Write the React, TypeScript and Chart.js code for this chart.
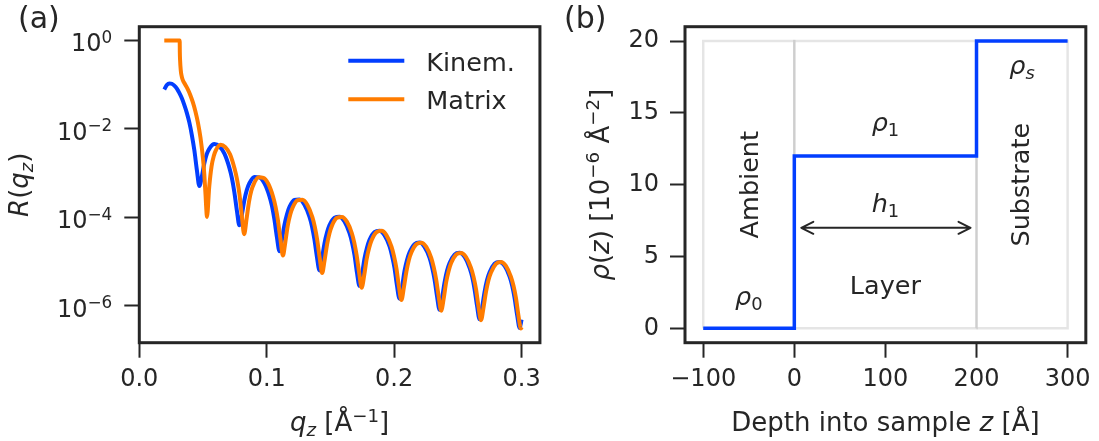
import React, { useEffect, useRef } from "react";
import { Chart, registerables } from "chart.js";

Chart.register(...registerables);

// ---------- shared style ----------
const FONT = '"DejaVu Sans", sans-serif';
const INK = "#262626";
const BLUE = "#023eff";
const ORANGE = "#ff7c00";
const REGION_EDGE = "rgba(0,0,0,0.1)";

// ---------- panel (a): specular reflectivity, R stored as log10 ----------
const kinemQ = [
  0.0196, 0.0216, 0.0236, 0.0255, 0.0275, 0.0295, 0.0314, 0.0334, 0.0353, 0.0373, 0.0393, 0.0412, 0.0432, 0.0452, 0.0471,
  0.0491, 0.0511, 0.053, 0.055, 0.0589, 0.0628, 0.0668, 0.0707, 0.0727, 0.0746, 0.0766, 0.0785,
  0.0805, 0.0825, 0.0844, 0.0864, 0.0903, 0.0942, 0.0982, 0.1021, 0.1041, 0.106, 0.108, 0.11,
  0.1119, 0.1139, 0.1159, 0.1178, 0.1217, 0.1257, 0.1296, 0.1335, 0.1355, 0.1374, 0.1394, 0.1414,
  0.1433, 0.1453, 0.1473, 0.1492, 0.1532, 0.1571, 0.161, 0.1649, 0.1669, 0.1689, 0.1708, 0.1728,
  0.1748, 0.1767, 0.1787, 0.1806, 0.1846, 0.1885, 0.1924, 0.1964, 0.1983, 0.2003, 0.2022, 0.2042,
  0.2062, 0.2081, 0.2101, 0.2121, 0.216, 0.2199, 0.2238, 0.2278, 0.2297, 0.2317, 0.2337, 0.2356,
  0.2376, 0.2396, 0.2415, 0.2435, 0.2474, 0.2513, 0.2553, 0.2592, 0.2612, 0.2631, 0.2651, 0.267,
  0.269, 0.271, 0.2729, 0.2749, 0.2788, 0.2827, 0.2867, 0.2906, 0.2926, 0.2945, 0.2965, 0.2985, 0.3,
];
const kinemLogR = [
  -1.11, -1.009, -0.971, -0.979, -1.021, -1.09, -1.187, -1.308, -1.457, -1.638, -1.858, -2.132, -2.483, -2.933, -3.289,
  -3.074, -2.768, -2.565, -2.443, -2.341, -2.391, -2.559, -2.879, -3.114, -3.43, -3.848, -4.176,
  -3.936, -3.604, -3.376, -3.228, -3.086, -3.095, -3.231, -3.518, -3.739, -4.042, -4.447, -4.761,
  -4.509, -4.166, -3.926, -3.767, -3.605, -3.595, -3.714, -3.984, -4.198, -4.493, -4.891, -5.198,
  -4.939, -4.59, -4.343, -4.177, -4.004, -3.983, -4.091, -4.351, -4.56, -4.851, -5.244, -5.546,
  -5.283, -4.93, -4.679, -4.509, -4.328, -4.299, -4.401, -4.654, -4.86, -5.147, -5.537, -5.836,
  -5.571, -5.214, -4.961, -4.788, -4.602, -4.567, -4.664, -4.912, -5.116, -5.401, -5.788, -6.085,
  -5.817, -5.459, -5.203, -5.028, -4.838, -4.799, -4.892, -5.136, -5.338, -5.621, -6.007, -6.302,
  -6.033, -5.673, -5.415, -5.239, -5.046, -5.004, -5.094, -5.335, -5.536, -5.817, -6.202, -6.496, -6.309,
];

const matrixQ = [
  0.0196, 0.0317, 0.0318, 0.032, 0.0325, 0.033, 0.034, 0.036, 0.038, 0.04, 0.042, 0.044, 0.046, 0.048, 0.05, 0.051, 0.052, 0.0525, 0.0531,
  0.0549, 0.0567, 0.0585, 0.0602, 0.0638, 0.0675, 0.0712, 0.0748, 0.0767, 0.0786, 0.0804, 0.0823,
  0.0842, 0.0861, 0.0879, 0.0898, 0.0936, 0.0974, 0.1012, 0.105, 0.1069, 0.1088, 0.1108, 0.1127,
  0.1146, 0.1165, 0.1184, 0.1203, 0.1242, 0.128, 0.1319, 0.1358, 0.1377, 0.1396, 0.1416, 0.1435,
  0.1454, 0.1474, 0.1493, 0.1512, 0.1551, 0.159, 0.1629, 0.1668, 0.1687, 0.1706, 0.1726, 0.1745,
  0.1765, 0.1784, 0.1804, 0.1823, 0.1862, 0.1901, 0.194, 0.1979, 0.1998, 0.2018, 0.2037, 0.2057,
  0.2076, 0.2096, 0.2115, 0.2135, 0.2174, 0.2213, 0.2252, 0.2291, 0.231, 0.233, 0.235, 0.2369,
  0.2389, 0.2408, 0.2428, 0.2447, 0.2486, 0.2525, 0.2564, 0.2603, 0.2623, 0.2643, 0.2662, 0.2682,
  0.2701, 0.2721, 0.274, 0.276, 0.2799, 0.2838, 0.2877, 0.2916, 0.2936, 0.2956, 0.2975, 0.2995, 0.3,
];
const matrixLogR = [
  0, 0, -0.259, -0.442, -0.663, -0.774, -0.885, -0.996, -1.101, -1.231, -1.394, -1.598, -1.857, -2.195, -2.677, -3.02, -3.493, -3.775, -3.987,
  -3.301, -2.846, -2.606, -2.476, -2.357, -2.411, -2.573, -2.902, -3.142, -3.474, -3.949, -4.378,
  -4.028, -3.641, -3.397, -3.245, -3.094, -3.106, -3.238, -3.531, -3.755, -4.065, -4.499, -4.86,
  -4.558, -4.187, -3.938, -3.777, -3.61, -3.602, -3.719, -3.993, -4.208, -4.508, -4.923, -5.257,
  -4.97, -4.603, -4.352, -4.184, -4.008, -3.987, -4.095, -4.357, -4.568, -4.861, -5.266, -5.586,
  -5.305, -4.94, -4.685, -4.515, -4.331, -4.303, -4.404, -4.659, -4.866, -5.155, -5.554, -5.866,
  -5.587, -5.222, -4.966, -4.792, -4.604, -4.57, -4.666, -4.916, -5.12, -5.407, -5.8, -6.106,
  -5.829, -5.464, -5.207, -5.031, -4.84, -4.802, -4.894, -5.14, -5.342, -5.627, -6.018, -6.32,
  -6.042, -5.678, -5.419, -5.242, -5.047, -5.006, -5.096, -5.338, -5.539, -5.823, -6.21, -6.51, -6.479,
];

const reflTickExponents = [0, -2, -4, -6];
const qTicks = [0, 0.1, 0.2, 0.3];

// ---------- panel (b): scattering length density profile ----------
const depthZ = [-100, 0, 0, 200, 200, 300];
const sldRho = [0, 0, 12, 12, 20, 20];
const regionBounds = [-100, 0, 200, 300];
const regionTop = 20;
const depthTicks = [-100, 0, 100, 200, 300];
const rhoTicks = [0, 5, 10, 15, 20];

// ---------- text helpers ----------
type Run = { t: string; it?: boolean; sub?: boolean; sup?: boolean };

const runFont = (r: Run, size: number) =>
  `${r.it ? "italic " : ""}${r.sub || r.sup ? size * 0.7 : size}px ${FONT}`;
const runShift = (r: Run, size: number) => (r.sub ? size * 0.19 : r.sup ? -size * 0.36 : 0);

function drawRich(
  ctx: CanvasRenderingContext2D,
  runs: Run[],
  x: number,
  y: number,
  size: number,
  opts: { rotate?: number; align?: "left" | "center" | "right"; vCenter?: boolean } = {}
) {
  ctx.save();
  let top = 0;
  let bottom = 0;
  const widths = runs.map((r) => {
    ctx.font = runFont(r, size);
    const m = ctx.measureText(r.t);
    const dy = runShift(r, size);
    top = Math.min(top, dy - m.actualBoundingBoxAscent);
    bottom = Math.max(bottom, dy + m.actualBoundingBoxDescent);
    return m.width;
  });
  const total = widths.reduce((s, w) => s + w, 0);
  ctx.translate(x, y);
  if (opts.rotate) ctx.rotate(opts.rotate);
  let cx = opts.align === "center" ? -total / 2 : opts.align === "right" ? -total : 0;
  const base = opts.vCenter ? -(top + bottom) / 2 : 0;
  ctx.fillStyle = INK;
  ctx.textAlign = "left";
  ctx.textBaseline = "alphabetic";
  runs.forEach((r, i) => {
    ctx.font = runFont(r, size);
    ctx.fillText(r.t, cx, base + runShift(r, size));
    cx += widths[i];
  });
  ctx.restore();
}

function drawFrame(ctx: CanvasRenderingContext2D, ca: { left: number; top: number; right: number; bottom: number }) {
  ctx.save();
  ctx.strokeStyle = INK;
  ctx.lineWidth = 3;
  ctx.lineJoin = "miter";
  ctx.strokeRect(ca.left, ca.top, ca.right - ca.left, ca.bottom - ca.top);
  ctx.restore();
}

const TICK_SIZE = 24;
const tickFont = { family: FONT, size: TICK_SIZE };
const axisGrid = { drawOnChartArea: false, drawTicks: true, tickLength: 15, tickWidth: 2, tickColor: INK };
const X_TITLE_BASELINE = 431;

// ---------- panel (a) ----------
function reflectivityConfig(): any {
  const overlay = {
    id: "reflOverlay",
    afterDraw(chart: any) {
      const { ctx, chartArea: ca, scales } = chart;
      drawFrame(ctx, ca);

      // decade labels of the log axis, written as powers of ten
      const yScale = scales.y;
      yScale.ticks.forEach((t: any) => {
        const exp = Math.round(Math.log10(t.value));
        const expText = exp < 0 ? "−" + Math.abs(exp) : String(exp);
        drawRich(ctx, [{ t: "10" }, { t: expText, sup: true }], ca.left - 15 - 12, yScale.getPixelForValue(t.value), TICK_SIZE, {
          align: "right",
          vCenter: true,
        });
      });

      // legend (no frame), upper right inside the axes
      const entries = chart.data.datasets.map((d: any) => ({ label: d.label, color: d.borderColor }));
      entries.forEach((e: any, i: number) => {
        const y = ca.top + 34 + i * 38.6;
        ctx.save();
        ctx.strokeStyle = e.color;
        ctx.lineWidth = 4;
        ctx.lineCap = "butt";
        ctx.beginPath();
        ctx.moveTo(ca.left + 209, y);
        ctx.lineTo(ca.left + 265, y);
        ctx.stroke();
        ctx.restore();
        drawRich(ctx, [{ t: e.label }], ca.left + 287, y + 9.8, 25.5);
      });

      const cx = (ca.left + ca.right) / 2;
      const cy = (ca.top + ca.bottom) / 2;
      drawRich(ctx, [{ t: "q", it: true }, { t: "z", it: true, sub: true }, { t: " [Å" }, { t: "−1", sup: true }, { t: "]" }], cx, X_TITLE_BASELINE, 26, { align: "center" });
      drawRich(ctx, [{ t: "R", it: true }, { t: "(" }, { t: "q", it: true }, { t: "z", it: true, sub: true }, { t: ")" }], 28, cy, 26, { align: "center", rotate: -Math.PI / 2 });
      drawRich(ctx, [{ t: "(a)" }], 18, 27.5, 30);
    },
  };

  return {
    type: "scatter",
    data: {
      datasets: [
        {
          label: "Kinem.",
          data: kinemQ.map((q, i) => ({ x: q, y: Math.pow(10, kinemLogR[i]) })),
          borderColor: BLUE,
          backgroundColor: BLUE,
          order: 1,
        },
        {
          label: "Matrix",
          data: matrixQ.map((q, i) => ({ x: q, y: Math.pow(10, matrixLogR[i]) })),
          borderColor: ORANGE,
          backgroundColor: ORANGE,
          order: 0,
        },
      ].map((d) => ({
        ...d,
        showLine: true,
        pointRadius: 0,
        borderWidth: 4,
        borderJoinStyle: "round",
        borderCapStyle: "butt",
        tension: 0.4,
        cubicInterpolationMode: "monotone",
        fill: false,
      })),
    },
    options: {
      animation: false,
      responsive: false,
      devicePixelRatio: 1,
      layout: { padding: { left: 0, top: 26.7, right: 7.3, bottom: 0 } },
      plugins: { legend: { display: false }, tooltip: { enabled: false } },
      scales: {
        x: {
          type: "linear",
          min: 0,
          max: 0.3144,
          afterBuildTicks: (s: any) => { s.ticks = qTicks.map((v) => ({ value: v })); },
          afterFit: (s: any) => { s.height = 441 - 342.7; },
          ticks: { font: tickFont, color: INK, padding: 8, maxRotation: 0, autoSkip: false, callback: (v: any) => Number(v).toFixed(1) },
          grid: axisGrid,
          border: { display: false },
        },
        y: {
          type: "logarithmic",
          min: Math.pow(10, -6.83),
          max: Math.pow(10, 0.31),
          afterBuildTicks: (s: any) => { s.ticks = reflTickExponents.map((e) => ({ value: Math.pow(10, e) })); },
          afterFit: (s: any) => { s.width = 139.3; },
          ticks: { display: false, font: tickFont, autoSkip: false },
          grid: axisGrid,
          border: { display: false },
        },
      },
    },
    plugins: [overlay],
  };
}

// ---------- panel (b) ----------
function profileConfig(): any {
  const regions = regionBounds.slice(0, -1).map((x0, i) => {
    const x1 = regionBounds[i + 1];
    return {
      label: `region${i}`,
      data: [
        { x: x0, y: 0 }, { x: x1, y: 0 }, { x: x1, y: regionTop }, { x: x0, y: regionTop }, { x: x0, y: 0 },
      ],
      showLine: true,
      pointRadius: 0,
      borderColor: REGION_EDGE,
      borderWidth: 2.5,
      tension: 0,
      fill: false,
      order: 1,
    };
  });

  const overlay = {
    id: "profileOverlay",
    afterDraw(chart: any) {
      const { ctx, chartArea: ca, scales } = chart;
      const px = (v: number) => scales.x.getPixelForValue(v);
      const py = (v: number) => scales.y.getPixelForValue(v);

      // layer thickness arrow
      const ay = py(7);
      const x0 = px(0) + 7;
      const x1 = px(200) - 6;
      ctx.save();
      ctx.strokeStyle = INK;
      ctx.lineWidth = 2;
      ctx.lineCap = "round";
      ctx.lineJoin = "round";
      ctx.beginPath();
      ctx.moveTo(x0, ay);
      ctx.lineTo(x1, ay);
      ctx.moveTo(x0 + 12, ay - 6);
      ctx.lineTo(x0, ay);
      ctx.lineTo(x0 + 12, ay + 6);
      ctx.moveTo(x1 - 12, ay - 6);
      ctx.lineTo(x1, ay);
      ctx.lineTo(x1 - 12, ay + 6);
      ctx.stroke();
      ctx.restore();

      const S = 25.5;
      const c = { align: "center" as const, vCenter: true };
      drawRich(ctx, [{ t: "ρ", it: true }, { t: "0", sub: true }], px(-50), py(1.92), S, c);
      drawRich(ctx, [{ t: "ρ", it: true }, { t: "1", sub: true }], px(100), py(14.07), S, c);
      drawRich(ctx, [{ t: "ρ", it: true }, { t: "s", it: true, sub: true }], px(250), py(18), S, c);
      drawRich(ctx, [{ t: "h", it: true }, { t: "1", sub: true }], px(100), py(8.6), S, c);
      drawRich(ctx, [{ t: "Layer" }], px(100), py(2.81), S, c);
      drawRich(ctx, [{ t: "Ambient" }], px(-50), py(10), S, { ...c, rotate: -Math.PI / 2 });
      drawRich(ctx, [{ t: "Substrate" }], px(247), py(10), S, { ...c, rotate: -Math.PI / 2 });

      drawFrame(ctx, ca);

      const cx = (ca.left + ca.right) / 2;
      const cy = (ca.top + ca.bottom) / 2;
      drawRich(ctx, [{ t: "Depth into sample " }, { t: "z", it: true }, { t: " [Å]" }], cx, X_TITLE_BASELINE, 26, { align: "center" });
      drawRich(
        ctx,
        [{ t: "ρ", it: true }, { t: "(" }, { t: "z", it: true }, { t: ")" }, { t: " [10" }, { t: "−6", sup: true }, { t: " Å" }, { t: "−2", sup: true }, { t: "]" }],
        59.5, cy, 26, { align: "center", rotate: -Math.PI / 2 }
      );
      drawRich(ctx, [{ t: "(b)" }], 15, 27.5, 30);
    },
  };

  return {
    type: "scatter",
    data: {
      datasets: [
        {
          label: "profile",
          data: depthZ.map((z, i) => ({ x: z, y: sldRho[i] })),
          showLine: true,
          pointRadius: 0,
          borderColor: BLUE,
          borderWidth: 3.5,
          borderJoinStyle: "miter",
          tension: 0,
          fill: false,
          order: 0,
        },
        ...regions,
      ],
    },
    options: {
      animation: false,
      responsive: false,
      devicePixelRatio: 1,
      layout: { padding: { left: 0, top: 26.7, right: 10.7, bottom: 0 } },
      plugins: { legend: { display: false }, tooltip: { enabled: false } },
      scales: {
        x: {
          type: "linear",
          min: -120,
          max: 320,
          afterBuildTicks: (s: any) => { s.ticks = depthTicks.map((v) => ({ value: v })); },
          afterFit: (s: any) => { s.height = 441 - 342.7; },
          ticks: { font: tickFont, color: INK, padding: 8, maxRotation: 0, autoSkip: false, callback: (v: any) => (Number(v) < 0 ? "−" + Math.abs(Number(v)) : String(v)) },
          grid: axisGrid,
          border: { display: false },
        },
        y: {
          type: "linear",
          min: -1,
          max: 21,
          afterBuildTicks: (s: any) => { s.ticks = rhoTicks.map((v) => ({ value: v })); },
          afterFit: (s: any) => { s.width = 136; },
          ticks: { font: tickFont, color: INK, padding: 11, autoSkip: false, callback: (v: any) => String(v) },
          grid: axisGrid,
          border: { display: false },
        },
      },
    },
    plugins: [overlay],
  };
}

export default function App() {
  const refA = useRef<HTMLCanvasElement>(null);
  const refB = useRef<HTMLCanvasElement>(null);

  useEffect(() => {
    const a = new Chart(refA.current as HTMLCanvasElement, reflectivityConfig());
    const b = new Chart(refB.current as HTMLCanvasElement, profileConfig());
    return () => {
      a.destroy();
      b.destroy();
    };
  }, []);

  return (
    <div style={{ position: "fixed", left: 0, top: 0, width: 1099, height: 441, background: "#ffffff" }}>
      <canvas ref={refA} width={549} height={441} style={{ position: "absolute", left: 0, top: 0, width: 549, height: 441 }} />
      <canvas ref={refB} width={550} height={441} style={{ position: "absolute", left: 549, top: 0, width: 550, height: 441 }} />
    </div>
  );
}
